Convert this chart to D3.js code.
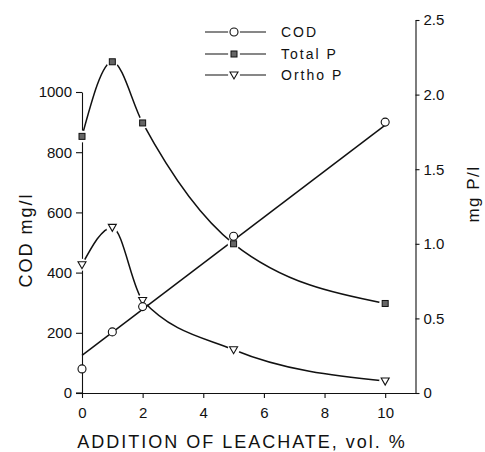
<!DOCTYPE html>
<html><head><meta charset="utf-8">
<script src="https://cdn.jsdelivr.net/npm/d3@7"></script>
<style>
body{margin:0;background:#fff;}
text{font-family:"Liberation Sans",Arial,sans-serif;fill:#111;}
</style></head>
<body>
<svg id="c" width="485" height="452"></svg>
<script>
// Data
const xVals = [0, 1, 2, 5, 10];
const codVals = [80, 203, 287, 521, 900];            // mg/l (left axis)
const codFitX = [0, 10];
const codFitY = [125, 890];                           // regression line
const totalPVals = [1.72, 2.22, 1.81, 1.0, 0.6];       // mg P/l (right axis)
const orthoPVals = [0.86, 1.11, 0.62, 0.29, 0.08];     // mg P/l (right axis)
const xTicks = [0, 2, 4, 6, 8, 10];
const leftTicks = [0, 200, 400, 600, 800, 1000];
const rightTicks = [0, 0.5, 1.0, 1.5, 2.0, 2.5];
const legendNames = ["COD", "Total P", "Ortho P"];
const legendShapes = ["circle", "square", "triangle"];

const svg = d3.select("#c");
const ink = "#111";

const x = d3.scaleLinear().domain([0, 11]).range([82, 415.5]);
const yL = d3.scaleLinear().domain([0, 1000]).range([393, 92]);
const yR = d3.scaleLinear().domain([0, 2.5]).range([393, 20]);

// Axes
const gx = svg.append("g").attr("transform", `translate(0,${yL(0)})`)
  .call(d3.axisBottom(x).tickValues(xTicks).tickSize(5).tickPadding(9).tickSizeOuter(0).tickFormat(d3.format("d")));
const gl = svg.append("g").attr("transform", `translate(${x(0)},0)`)
  .call(d3.axisLeft(yL).tickValues(leftTicks).tickSize(6).tickPadding(4).tickSizeOuter(0).tickFormat(d3.format("d")));
const gr = svg.append("g").attr("transform", `translate(${x(11)},0)`)
  .call(d3.axisRight(yR).tickValues(rightTicks).tickSize(4).tickPadding(4).tickSizeOuter(0)
    .tickFormat(d => d === 0 ? "0" : d.toFixed(1)));
[gx, gl, gr].forEach(g => {
  g.selectAll("path,line").attr("stroke", ink).attr("stroke-width", 1.1);
  g.selectAll("text").attr("font-size", 15).attr("fill", ink).style("font-family", '"Liberation Sans",Arial,sans-serif');
});
// extend x axis slightly left of 0
svg.append("line").attr("x1", x(0) - 6).attr("x2", x(0)).attr("y1", yL(0)).attr("y2", yL(0))
  .attr("stroke", ink).attr("stroke-width", 1.1);

// Axis titles
svg.append("text").attr("transform", `translate(32,${240})rotate(-90)`)
  .attr("text-anchor", "middle").attr("font-size", 18).attr("letter-spacing", 2).text("COD mg/l");
svg.append("text").attr("transform", `translate(479,${194})rotate(-90)`)
  .attr("text-anchor", "middle").attr("font-size", 17).attr("letter-spacing", 1.5).text("mg P/l");
svg.append("text").attr("x", 242).attr("y", 448)
  .attr("text-anchor", "middle").attr("font-size", 18).attr("letter-spacing", 2).text("ADDITION OF LEACHATE,  vol. %");

// Lines
const lineStyle = sel => sel.attr("fill", "none").attr("stroke", ink).attr("stroke-width", 1.5);
const codFit = codFitX.map((d, i) => [d, codFitY[i]]);
svg.append("path").datum(codFit).call(lineStyle)
  .attr("d", d3.line().x(d => x(d[0])).y(d => yL(d[1])));
const tp = xVals.map((d, i) => [d, totalPVals[i]]);
const op = xVals.map((d, i) => [d, orthoPVals[i]]);
const curve = d3.line().curve(d3.curveMonotoneX).x(d => x(d[0])).y(d => yR(d[1]));
svg.append("path").datum(tp).call(lineStyle).attr("d", curve);
svg.append("path").datum(op).call(lineStyle).attr("d", curve);

// Markers
function marker(g, shape, cx, cy, halo) {
  if (halo) g.append("circle").attr("cx", cx).attr("cy", cy).attr("r", 6).attr("fill", "#fff");
  if (shape === "circle") {
    g.append("circle").attr("cx", cx).attr("cy", cy).attr("r", 4)
      .attr("fill", "#fff").attr("stroke", ink).attr("stroke-width", 1.1);
  } else if (shape === "square") {
    g.append("rect").attr("x", cx - 3).attr("y", cy - 3).attr("width", 6).attr("height", 6)
      .attr("fill", "#666").attr("stroke", ink).attr("stroke-width", 1);
  } else {
    g.append("path").attr("d", `M${cx - 4},${cy - 3}L${cx + 4},${cy - 3}L${cx},${cy + 4}Z`)
      .attr("fill", "#fff").attr("stroke", ink).attr("stroke-width", 1.1);
  }
}
const mg = svg.append("g");
tp.forEach(d => marker(mg, "square", x(d[0]), yR(d[1]), true));
op.forEach(d => marker(mg, "triangle", x(d[0]), yR(d[1]), true));
xVals.forEach((d, i) => marker(mg, "circle", x(d), yL(codVals[i]), false));

// Legend
const legY = [32, 54, 75];
legendNames.forEach((name, i) => {
  const g = svg.append("g");
  g.append("line").attr("x1", 205).attr("x2", 266).attr("y1", legY[i]).attr("y2", legY[i])
    .attr("stroke", ink).attr("stroke-width", 1.2);
  marker(g, legendShapes[i], 234, legY[i], true);
  g.append("text").attr("x", 281).attr("y", legY[i] + 5).attr("font-size", 14)
    .attr("letter-spacing", 2).text(name);
});
</script>
</body></html>
